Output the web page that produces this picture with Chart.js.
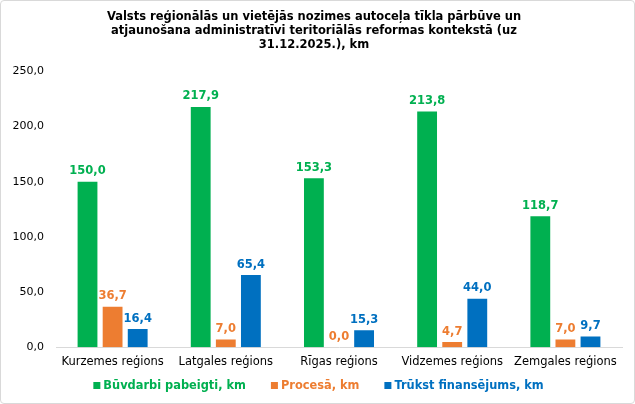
<!DOCTYPE html>
<html>
<head>
<meta charset="utf-8">
<script src="https://cdn.jsdelivr.net/npm/chart.js@4"></script>
<style>
  html, body { margin: 0; padding: 0; background: #fff; }
  #wrap { position: absolute; left: 0; top: 0; width: 635px; height: 404px; }
  #frame { position: absolute; left: 0; top: 0; width: 633px; height: 402px; border: 1px solid #d9d9d9; border-radius: 4px; pointer-events: none; }
  canvas { display: block; }
</style>
</head>
<body>
<div id="wrap"><canvas id="c" width="635" height="404"></canvas><div id="frame"></div></div>
<script>
const titleLines = [
  "Valsts reģionālās un vietējās nozimes autoceļa tīkla pārbūve un",
  "atjaunošana administratīvi teritoriālās reformas kontekstā (uz",
  "31.12.2025.), km"
];
const categories = ["Kurzemes reģions", "Latgales reģions", "Rīgas reģions", "Vidzemes reģions", "Zemgales reģions"];
const seriesNames = ["Būvdarbi pabeigti, km", "Procesā, km", "Trūkst finansējums, km"];
const completed = [150.0, 217.9, 153.3, 213.8, 118.7];
const inProgress = [36.7, 7.0, 0.0, 4.7, 7.0];
const noFunding = [16.4, 65.4, 15.3, 44.0, 9.7];
const seriesColors = ["#00B050", "#ED7D31", "#0070C0"];
const yTicks = [0, 50, 100, 150, 200, 250];

const FONT = "'DejaVu Sans', Verdana, sans-serif";
const fmt = v => v.toFixed(1).replace('.', ',');

const dataLabels = {
  id: 'dataLabels',
  afterDatasetsDraw(chart) {
    const ctx = chart.ctx;
    ctx.save();
    ctx.font = "bold 11.5px " + FONT;
    ctx.textAlign = 'center';
    ctx.textBaseline = 'alphabetic';
    chart.data.datasets.forEach((ds, i) => {
      const meta = chart.getDatasetMeta(i);
      ctx.fillStyle = ds.backgroundColor;
      meta.data.forEach((bar, j) => {
        ctx.fillText(fmt(ds.data[j]), bar.x, bar.y - 7.5);
      });
    });
    ctx.restore();
  }
};

const customLegend = {
  id: 'customLegend',
  afterDraw(chart) {
    const ctx = chart.ctx;
    ctx.save();
    ctx.font = "bold 11.4px " + FONT;
    ctx.textBaseline = 'middle';
    ctx.textAlign = 'left';
    const box = 7, gapBT = 3, gapItems = 25;
    const widths = seriesNames.map(n => ctx.measureText(n).width);
    const total = widths.reduce((a, w) => a + box + gapBT + w, 0) + gapItems * (seriesNames.length - 1);
    let x = (chart.width - total) / 2 + 1;
    const y = 385.5;
    seriesNames.forEach((n, i) => {
      ctx.fillStyle = seriesColors[i];
      ctx.fillRect(x, y - box / 2, box, box);
      ctx.fillText(n, x + box + gapBT, y + 0.5);
      x += box + gapBT + widths[i] + gapItems;
    });
    ctx.restore();
  }
};

const values = [completed, inProgress, noFunding];
new Chart(document.getElementById('c'), {
  type: 'bar',
  data: {
    labels: categories,
    datasets: seriesNames.map((n, i) => ({
      label: n,
      data: values[i],
      backgroundColor: seriesColors[i],
      borderWidth: 0,
      categoryPercentage: 0.665,
      barPercentage: 0.79
    }))
  },
  options: {
    responsive: false,
    animation: false,
    devicePixelRatio: 1,
    layout: { padding: { left: 6, right: 13, top: 0, bottom: 27 } },
    plugins: {
      title: {
        display: true,
        text: titleLines,
        color: '#000',
        font: { family: FONT, size: 11.5, weight: 'bold', lineHeight: '14px' },
        padding: { top: 10, bottom: 19.5 }
      },
      legend: { display: false },
      tooltip: { enabled: false }
    },
    scales: {
      x: {
        grid: { display: false, drawTicks: false },
        border: { display: true, color: '#d9d9d9' },
        ticks: { color: '#000', font: { family: FONT, size: 11.5 }, padding: 8, maxRotation: 0, autoSkip: false }
      },
      y: {
        min: 0,
        max: 250,
        afterBuildTicks(axis) { axis.ticks = yTicks.map(v => ({ value: v })); },
        afterFit(axis) { axis.width = 50; },
        grid: { display: false, drawTicks: false },
        border: { display: false },
        ticks: { color: '#000', font: { family: FONT, size: 11 }, padding: 12, callback: v => fmt(v) }
      }
    }
  },
  plugins: [dataLabels, customLegend]
});
</script>
</body>
</html>
